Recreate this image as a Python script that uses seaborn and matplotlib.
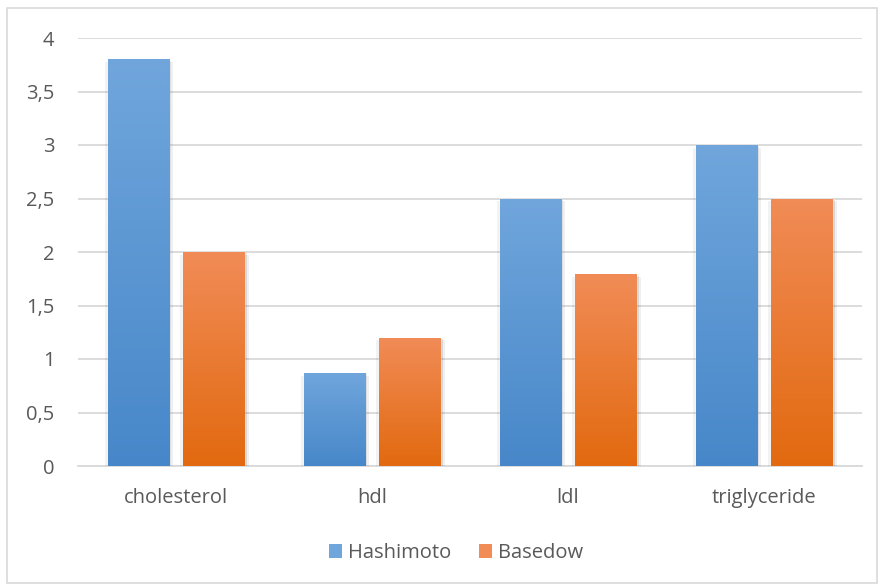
import numpy as np
import pandas as pd
import matplotlib
matplotlib.use("Agg")
import matplotlib.pyplot as plt
import matplotlib.patheffects as pe
from matplotlib.colors import LinearSegmentedColormap
from matplotlib.patches import Rectangle, Patch
import seaborn as sns

categories = ["cholesterol", "hdl", "ldl", "triglyceride"]
hashimoto = [3.8, 0.87, 2.5, 3.0]
basedow = [2.0, 1.2, 1.79, 2.5]
series_names = ["Hashimoto", "Basedow"]
y_ticks = [0, 0.5, 1, 1.5, 2, 2.5, 3, 3.5, 4]

df = pd.DataFrame({
    "category": categories * 2,
    "value": hashimoto + basedow,
    "series": [series_names[0]] * len(categories) + [series_names[1]] * len(categories),
})

sns.set_theme(style="white")
plt.rcParams["font.family"] = ["Open Sans", "DejaVu Sans"]

text_col = "#595959"
grid_col = "#d9d9d9"
fs = 14.5
# top / bottom colours of each series' vertical gradient
grads = {
    "Hashimoto": ("#70a6dc", "#4787c9"),
    "Basedow": ("#f18c57", "#e2690f"),
}

fig = plt.figure(figsize=(8.81, 5.87), dpi=100)
ax = fig.add_axes([78 / 881, 1 - 466 / 587, (862 - 78) / 881, (466 - 38) / 587])

sns.barplot(data=df, x="category", y="value", hue="series", order=categories,
            hue_order=series_names, width=0.77, gap=0.185,
            palette=[grads[s][0] for s in series_names], ax=ax, legend=False,
            errorbar=None, zorder=3)

ax.set_xlim(-0.5, len(categories) - 0.5)
ax.set_ylim(0, 4)
ax.set_yticks(y_ticks)
ax.set_yticklabels([f"{t:g}".replace(".", ",") for t in y_ticks])
ax.yaxis.grid(True, color=grid_col, linewidth=1.3, zorder=0)
ax.set_axisbelow(True)
for s in ["top", "right", "left"]:
    ax.spines[s].set_visible(False)
ax.spines["bottom"].set_color(grid_col)
ax.spines["bottom"].set_linewidth(1.3)
ax.tick_params(axis="y", length=0, pad=17, labelsize=fs, labelcolor=text_col)
ax.tick_params(axis="x", length=0, pad=16, labelsize=fs, labelcolor=text_col)
ax.set_xlabel("")
ax.set_ylabel("")

# vertical gradient fill + soft shadow for each bar
n = len(categories)
shadow = [
    pe.SimplePatchShadow(offset=(3, -2), shadow_rgbFace="#000000", alpha=0.06),
    pe.SimplePatchShadow(offset=(-2, -2), shadow_rgbFace="#000000", alpha=0.05),
    pe.SimplePatchShadow(offset=(1.5, -1), shadow_rgbFace="#000000", alpha=0.10),
    pe.Normal(),
]
for i, bar in enumerate(ax.patches[: 2 * n]):
    name = series_names[i // n]
    top_c, bot_c = grads[name]
    cmap = LinearSegmentedColormap.from_list(name, [bot_c, top_c])
    x0, w = bar.get_x(), bar.get_width()
    h = bar.get_height()
    bar.set_path_effects(shadow)
    grad = np.linspace(0, 1, 256).reshape(-1, 1)
    im = ax.imshow(grad, cmap=cmap, origin="lower", aspect="auto",
                   extent=[x0, x0 + w, 0, h], zorder=4, interpolation="bilinear")
    im.set_clip_path(bar)

ax.set_xlim(-0.5, len(categories) - 0.5)
ax.set_ylim(0, 4)

handles = [Patch(facecolor=grads[s][0], edgecolor="none") for s in series_names]
fig.legend(handles, series_names, loc="center", bbox_to_anchor=(456 / 881, 1 - 553 / 587),
           ncol=2, frameon=False, fontsize=fs, labelcolor=text_col,
           handlelength=0.65, handleheight=0.65, handletextpad=0.3, columnspacing=1.4)

# outer chart border
fig.add_artist(Rectangle((7 / 881, 4 / 587), 870 / 881, 575 / 587, transform=fig.transFigure,
                         fill=False, edgecolor="#d9d9d9", linewidth=1.2))

fig.savefig("out.png", dpi=100)
